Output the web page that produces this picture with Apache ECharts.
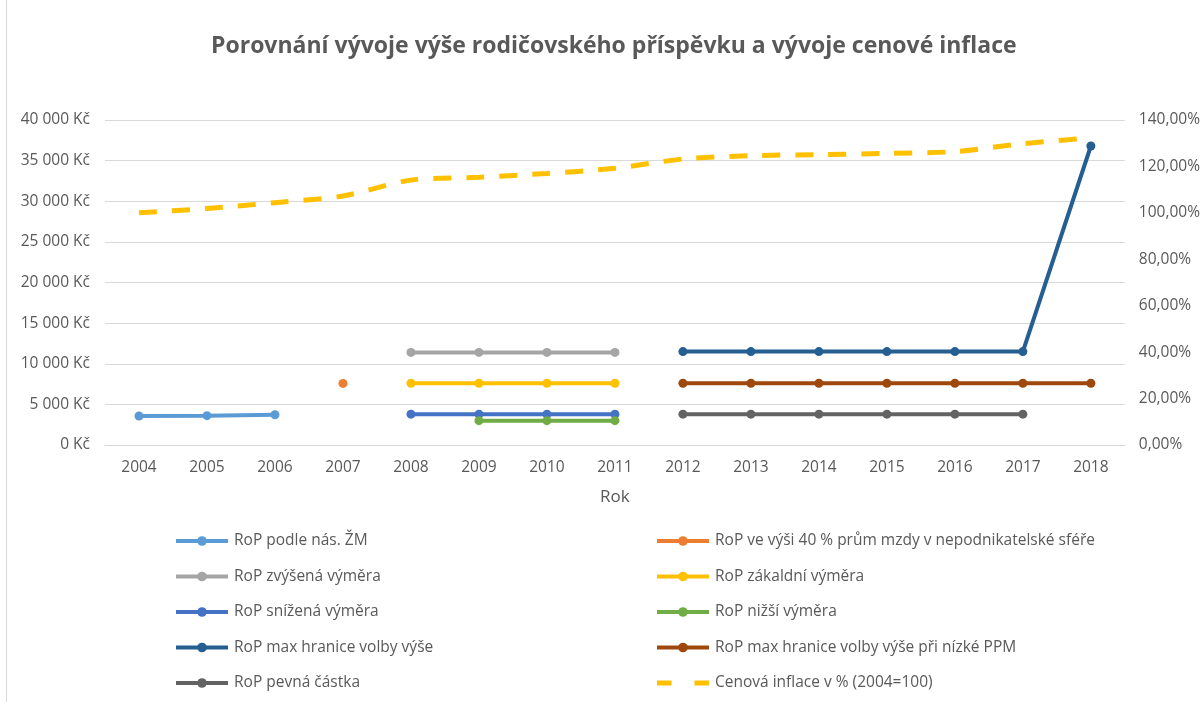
<!DOCTYPE html>
<html>
<head>
<meta charset="utf-8">
<script src="https://cdn.jsdelivr.net/npm/echarts@6/dist/echarts.min.js"></script>
<style>
  html, body { margin: 0; padding: 0; background: #fff; }
  #chart { position: absolute; left: 0; top: 0; width: 1203px; height: 702px; }
  .frame { position: absolute; left: 6px; top: 0; width: 1px; height: 702px; background: #d9d9d9; }
</style>
</head>
<body>
<div class="frame"></div>
<div id="chart"></div>
<script>
  // roky na ose x
  const years = ['2004', '2005', '2006', '2007', '2008', '2009', '2010', '2011',
    '2012', '2013', '2014', '2015', '2016', '2017', '2018']

  const names = [
    'RoP podle nás. ŽM',
    'RoP ve výši 40 % prům mzdy v nepodnikatelské sféře',
    'RoP zvýšená výměra',
    'RoP zákaldní výměra',
    'RoP snížená výměra',
    'RoP nižší výměra',
    'RoP max hranice volby výše',
    'RoP max hranice volby výše při nízké PPM',
    'RoP pevná částka',
    'Cenová inflace v % (2004=100)'
  ]

  const _ = null
  const ropZM = [3570, 3610, 3730, _, _, _, _, _, _, _, _, _, _, _, _]
  const rop40 = [_, _, _, 7582, _, _, _, _, _, _, _, _, _, _, _]
  const ropZvysena = [_, _, _, _, 11400, 11400, 11400, 11400, _, _, _, _, _, _, _]
  const ropZakladni = [_, _, _, _, 7600, 7600, 7600, 7600, _, _, _, _, _, _, _]
  const ropSnizena = [_, _, _, _, 3800, 3800, 3800, 3800, _, _, _, _, _, _, _]
  const ropNizsi = [_, _, _, _, _, 3000, 3000, 3000, _, _, _, _, _, _, _]
  const ropMax = [_, _, _, _, _, _, _, _, 11500, 11500, 11500, 11500, 11500, 11500, 36800]
  const ropMaxPPM = [_, _, _, _, _, _, _, _, 7600, 7600, 7600, 7600, 7600, 7600, 7600]
  const ropPevna = [_, _, _, _, _, _, _, _, 3800, 3800, 3800, 3800, 3800, 3800, _]
  const inflace = [100, 101.9, 104.4, 107.3, 114.1, 115.3, 117, 119.2, 123.2, 124.6,
    125.1, 125.6, 126.4, 129.8, 132.3]

  const colors = ['#5b9bd5', '#ed7d31', '#a5a5a5', '#ffc000', '#4472c4',
    '#70ad47', '#255e91', '#9e480e', '#636363', '#ffc000']

  const textColor = '#595959'
  const font = 'Open Sans'

  function lineSeries(i, data) {
    return {
      name: names[i],
      type: 'line',
      data: data,
      symbol: 'circle',
      symbolSize: 9,
      lineStyle: { width: 4, color: colors[i] },
      itemStyle: { color: colors[i] },
      connectNulls: false
    }
  }

  const series = [
    lineSeries(0, ropZM),
    lineSeries(1, rop40),
    lineSeries(2, ropZvysena),
    lineSeries(3, ropZakladni),
    lineSeries(4, ropSnizena),
    lineSeries(5, ropNizsi),
    lineSeries(6, ropMax),
    lineSeries(7, ropMaxPPM),
    lineSeries(8, ropPevna),
    {
      name: names[9],
      type: 'line',
      yAxisIndex: 1,
      data: inflace,
      smooth: 0.3,
      symbol: 'none',
      lineStyle: { width: 5, color: colors[9], type: [18, 15] },
      itemStyle: { color: colors[9] }
    }
  ]

  const legendCommon = {
    orient: 'vertical',
    top: 533,
    padding: 0,
    itemGap: 19.5,
    itemWidth: 52,
    itemHeight: 12,
    lineStyle: { width: 4 },
    textStyle: { color: textColor, fontSize: 15.5, fontFamily: font, padding: [0, 0, 0, 1] }
  }

  const myChart = echarts.init(document.getElementById('chart'))
  myChart.setOption({
    animation: false,
    color: colors,
    title: {
      text: 'Porovnání vývoje výše rodičovského příspěvku a vývoje cenové inflace',
      left: 206,
      top: 30,
      textStyle: { color: textColor, fontSize: 23, fontWeight: 'bold', fontFamily: font }
    },
    legend: [
      Object.assign({}, legendCommon, {
        left: 174,
        data: [names[0], names[2], names[4], names[6], names[8]]
      }),
      Object.assign({}, legendCommon, {
        left: 655,
        data: [names[1], names[3], names[5], names[7], {
          name: names[9],
          icon: 'path://M0,0H14V5H0Z M36,0H50V5H36Z'
        }]
      })
    ],
    grid: { left: 105, right: 78, top: 120, bottom: 257 },
    xAxis: {
      type: 'category',
      data: years,
      name: 'Rok',
      nameLocation: 'middle',
      nameGap: 44,
      nameTextStyle: { color: textColor, fontSize: 17, fontFamily: font },
      axisLine: { lineStyle: { color: '#d9d9d9' } },
      axisTick: { show: false },
      axisLabel: { color: textColor, fontSize: 15.5, fontFamily: font, margin: 15 }
    },
    yAxis: [
      {
        type: 'value',
        min: 0,
        max: 40000,
        interval: 5000,
        axisLine: { show: false },
        axisTick: { show: false },
        splitLine: { lineStyle: { color: '#d9d9d9', width: 1 } },
        axisLabel: {
          color: textColor,
          fontSize: 15.5,
          fontFamily: font,
          margin: 15,
          formatter: function(v) {
            return String(v).replace(/\B(?=(\d{3})+(?!\d))/g, ' ') + ' Kč'
          }
        }
      },
      {
        type: 'value',
        min: 0,
        max: 140,
        interval: 20,
        axisLine: { show: false },
        axisTick: { show: false },
        splitLine: { show: false },
        axisLabel: {
          color: textColor,
          fontSize: 15.5,
          fontFamily: font,
          margin: 14,
          formatter: function(v) {
            return v.toFixed(2).replace('.', ',') + '%'
          }
        }
      }
    ],
    series: series
  })
</script>
</body>
</html>
